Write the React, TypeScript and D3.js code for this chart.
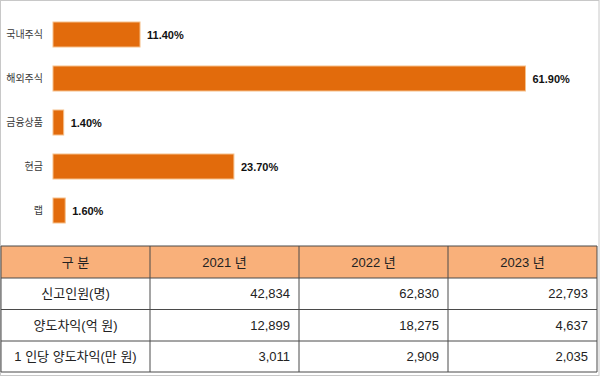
import React from "react";
import * as d3 from "d3";

const categories = ["국내주식", "해외주식", "금융상품", "현금", "랩"];
const shares = [11.4, 61.9, 1.4, 23.7, 1.6];

const headerFirst = "구 분";
const years = ["2021 년", "2022 년", "2023 년"];
const rowLabels = ["신고인원(명)", "양도차익(억 원)", "1 인당 양도차익(만 원)"];
const values2021 = [42834, 12899, 3011];
const values2022 = [62830, 18275, 2909];
const values2023 = [22793, 4637, 2035];

const W = 600;
const H = 376;
const FONT = "'Liberation Sans', 'Noto Sans CJK KR', sans-serif";

export default function App() {
  const x = d3.scaleLinear().domain([0, 61.9]).range([53, 525.5]);
  const y = d3.scaleBand<string>().domain(categories).range([22 - 9.5, 22 + 5 * 44 - 9.5]).paddingInner(19 / 44).paddingOuter(19 / 88);
  const barH = y.bandwidth();

  const colEdges = [1, 150, 299, 448, 597];
  const rowEdges = [246, 278, 309.5, 341, 372];
  const cols = [values2021, values2022, values2023];
  const fmt = d3.format(",");

  return (
    <svg width={W} height={H} style={{ position: "absolute", left: 0, top: 0, background: "#fff" }} fontFamily={FONT}>
      <rect x={0.5} y={0.5} width={W - 1.5} height={H - 1} fill="#fff" stroke="#c8c8c8" strokeWidth={1} />
      {categories.map((c, i) => {
        const y0 = y(c) as number;
        return (
          <g key={c}>
            <rect x={x(0)} y={y0} width={x(shares[i]) - x(0)} height={barH} fill="#E26B0C" stroke="#F6C08A" strokeWidth={1} />
            <text x={43} y={y0 + barH / 2} textAnchor="end" dominantBaseline="central" fontSize={10} fill="#3a3a3a">{c}</text>
            <text x={x(shares[i]) + 7} y={y0 + barH / 2} dominantBaseline="central" fontSize={11} fontWeight="bold" fill="#111">
              {shares[i].toFixed(2) + "%"}
            </text>
          </g>
        );
      })}
      <rect x={colEdges[0]} y={rowEdges[0]} width={colEdges[4] - colEdges[0]} height={rowEdges[1] - rowEdges[0]} fill="#F9B07A" />
      {rowEdges.map((ry, i) => (
        <line key={"h" + i} x1={colEdges[0]} x2={colEdges[4]} y1={ry} y2={ry} stroke="#4a4a4a" strokeWidth={1} />
      ))}
      {colEdges.map((cx, i) => (
        <line key={"v" + i} x1={cx} x2={cx} y1={rowEdges[0]} y2={rowEdges[4]} stroke="#4a4a4a" strokeWidth={1} />
      ))}
      <text x={(colEdges[0] + colEdges[1]) / 2} y={(rowEdges[0] + rowEdges[1]) / 2} textAnchor="middle" dominantBaseline="central" fontSize={13} fill="#222">{headerFirst}</text>
      {years.map((yr, j) => (
        <text key={yr} x={(colEdges[j + 1] + colEdges[j + 2]) / 2} y={(rowEdges[0] + rowEdges[1]) / 2} textAnchor="middle" dominantBaseline="central" fontSize={13} fill="#222">{yr}</text>
      ))}
      {rowLabels.map((rl, i) => (
        <g key={rl}>
          <text x={(colEdges[0] + colEdges[1]) / 2} y={(rowEdges[i + 1] + rowEdges[i + 2]) / 2} textAnchor="middle" dominantBaseline="central" fontSize={13} fill="#222">{rl}</text>
          {cols.map((vals, j) => (
            <text key={j} x={colEdges[j + 2] - 9} y={(rowEdges[i + 1] + rowEdges[i + 2]) / 2} textAnchor="end" dominantBaseline="central" fontSize={13} fill="#222">{fmt(vals[i])}</text>
          ))}
        </g>
      ))}
    </svg>
  );
}
